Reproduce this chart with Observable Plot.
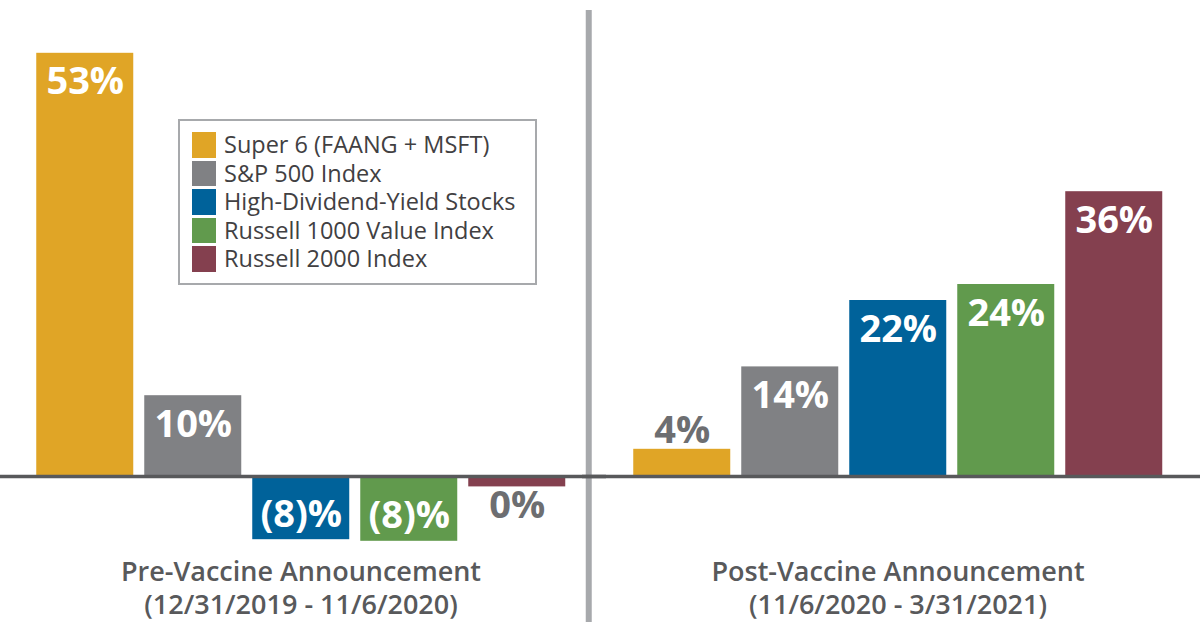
<!DOCTYPE html>
<html>
<head>
<meta charset="utf-8">
<script src="https://cdn.jsdelivr.net/npm/d3@7"></script>
<script src="https://cdn.jsdelivr.net/npm/@observablehq/plot@0.6"></script>
<style>
  body { margin: 0; background: #ffffff; }
  #chart { position: relative; width: 1200px; height: 634px; font-family: "Open Sans", sans-serif; }
  #chart svg { position: absolute; left: 0; top: 0; }
  #legend {
    position: absolute; left: 178px; top: 119px; width: 343px; height: 152px;
    border: 2px solid #a7a9ac; background: #ffffff;
    font-family: "Open Sans", sans-serif; font-size: 23.5px; color: #414042;
    padding: 10px 0 0 12px; box-sizing: content-box;
  }
  #legend .row { display: flex; align-items: center; height: 28.4px; }
  #legend .sw { width: 24px; height: 25.5px; margin-right: 8px; flex: none; }
  #legend .lab { line-height: 1; white-space: nowrap; }
</style>
</head>
<body>
<div id="chart"></div>
<script>
// ---- data ----
const groupKeys = ["pre", "post"];
const groupTitles = [
  "Pre-Vaccine Announcement\n(12/31/2019 - 11/6/2020)",
  "Post-Vaccine Announcement\n(11/6/2020 - 3/31/2021)"
];
const series = [
  "Super 6 (FAANG + MSFT)",
  "S&P 500 Index",
  "High-Dividend-Yield Stocks",
  "Russell 1000 Value Index",
  "Russell 2000 Index"
];
const colors = ["#e0a526", "#808184", "#00629a", "#619a4d", "#84404f"];
const preValues = [52.9, 10.1, -7.9, -8.1, -1.3];
const postValues = [3.4, 13.7, 22.0, 24.0, 35.6];
const preLabels = ["53%", "10%", "(8)%", "(8)%", "0%"];
const postLabels = ["4%", "14%", "22%", "24%", "36%"];

// ---- table ----
const rows = [];
series.forEach((s, i) => rows.push({group: "pre", series: s, value: preValues[i], label: preLabels[i]}));
series.forEach((s, i) => rows.push({group: "post", series: s, value: postValues[i], label: postLabels[i]}));
const titleOf = Object.fromEntries(groupKeys.map((k, i) => [k, groupTitles[i]]));

const labelFont = {fontSize: 38, fontWeight: 700, lineAnchor: "bottom"};

const plot = Plot.plot({
  width: 1200,
  height: 634,
  marginTop: 36,
  marginBottom: 78,
  marginLeft: 34.75,
  marginRight: 35.5,
  style: {fontFamily: "Open Sans, sans-serif", background: "transparent"},
  facet: {data: rows, x: "group"},
  fx: {domain: groupKeys, paddingInner: 0.110, paddingOuter: 0, axis: null, label: null},
  x: {domain: series, paddingInner: 0.1, paddingOuter: 0, axis: null, label: null},
  y: {domain: [-10, 55], axis: null, label: null},
  color: {domain: series, range: colors},
  marks: [
    Plot.ruleX(rows, {
      filter: d => d.group === "post" && d.series === series[0],
      x: "series", dx: -93.5, stroke: "#a7a9ac", strokeWidth: 6,
      insetTop: -26, insetBottom: -66
    }),
    Plot.barY(rows, {x: "series", y: "value", fill: "series"}),
    Plot.ruleY([0], {stroke: "#58595b", strokeWidth: 3.4, insetLeft: -50, insetRight: -40}),
    Plot.text(rows, {filter: d => d.value > 6, x: "series", y: "value", text: "label", dy: 41, fill: "#ffffff", ...labelFont}),
    Plot.text(rows, {filter: d => d.value > 0 && d.value <= 6, x: "series", y: "value", text: "label", dy: -6, fill: "#6d6e71", ...labelFont}),
    Plot.text(rows, {filter: d => d.value < -6, x: "series", y: "value", text: "label", dy: -13, fill: "#ffffff", ...labelFont}),
    Plot.text(rows, {filter: d => d.value < 0 && d.value >= -6, x: "series", y: "value", text: "label", dy: 31.5, fill: "#6d6e71", ...labelFont}),
    Plot.text(rows, {
      filter: d => d.series === series[0],
      text: d => titleOf[d.group],
      frameAnchor: "bottom", lineAnchor: "top", dy: 1, lineHeight: 1.22,
      fontSize: 27, fontWeight: 600, fill: "#58595b"
    })
  ]
});

const chart = document.getElementById("chart");
chart.appendChild(plot);

// legend
const legend = document.createElement("div");
legend.id = "legend";
series.forEach((s, i) => {
  const row = document.createElement("div");
  row.className = "row";
  const sw = document.createElement("div");
  sw.className = "sw";
  sw.style.background = colors[i];
  const lab = document.createElement("div");
  lab.className = "lab";
  lab.textContent = s;
  row.appendChild(sw);
  row.appendChild(lab);
  legend.appendChild(row);
});
chart.appendChild(legend);
</script>
</body>
</html>
